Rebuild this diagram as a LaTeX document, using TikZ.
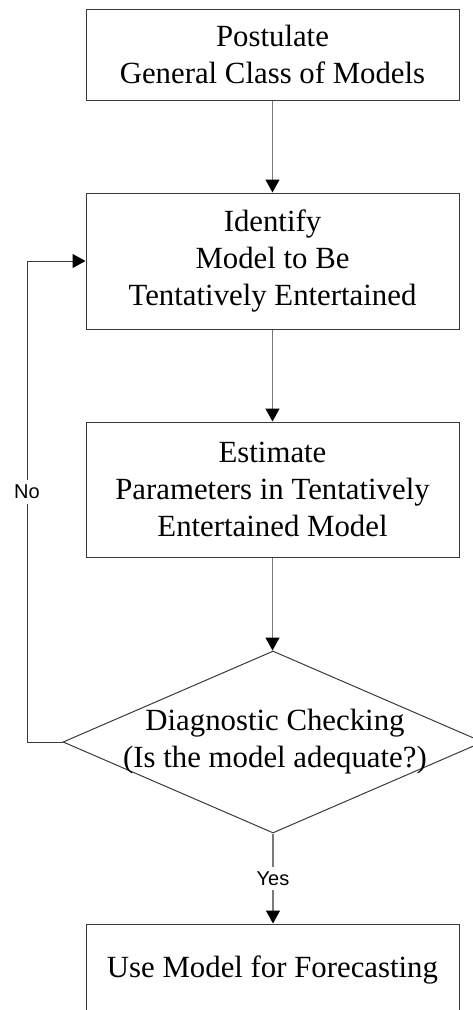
\documentclass[tikz,border=0pt]{standalone}
\usepackage{fontspec}
\setmainfont{Liberation Serif}
\newfontfamily\labelfont{Liberation Sans}
\usetikzlibrary{arrows.meta,shapes.geometric}
\definecolor{boxc}{HTML}{3A3A3A}
\definecolor{arrc}{HTML}{7A7A7A}
\begin{document}
\begin{tikzpicture}[x=1pt,y=-1pt,
  box/.style={draw=boxc, line width=1pt, minimum width=373pt, align=center,
    font=\fontsize{30.8}{37}\selectfont, inner sep=0pt},
  dtext/.style={align=center, font=\fontsize{30.8}{37}\selectfont, inner sep=0pt},
  flow/.style={draw=arrc, line width=1.3pt, -{Triangle[width=14pt,length=13pt,color=black]}},
  loopline/.style={draw=boxc, line width=1pt, -{Triangle[width=14pt,length=13pt,color=black]}},
  lab/.style={font=\labelfont\fontsize{20}{24}\selectfont, fill=white, inner sep=5pt}]
\useasboundingbox (0,0) rectangle (473,1010);
\node[box, minimum height=91pt] (b1) at (272.5,54.5) {Postulate\\General Class of Models};
\node[box, minimum height=136pt] (b2) at (272.5,261) {Identify\\Model to Be\\Tentatively Entertained};
\node[box, minimum height=135pt] (b3) at (272.5,489.5) {Estimate\\Parameters in Tentatively\\Entertained Model};
\node[draw=boxc, line width=1pt, diamond, minimum width=420pt, minimum height=182pt, inner sep=0pt] (d) at (273,742) {};
\node[dtext] (dt) at (275,742) {Diagnostic Checking\\(Is the model adequate?)};
\node[box, minimum height=91pt] (b4) at (272.5,969.5) {Use Model for Forecasting};
\coordinate (lx) at (27,0);
\draw[flow] (b1) -- (b2);
\draw[flow] (b2) -- (b3);
\draw[flow] (b3.south) -- (b3.south |- d.north);
\draw[flow] (d.south) -- node[lab] {Yes} (d.south |- b4.north);
\draw[loopline] (d.west) -- (d.west -| lx) -- node[lab, pos=0.52] {No} (lx |- b2.west) -- (b2.west);
\end{tikzpicture}
\end{document}
